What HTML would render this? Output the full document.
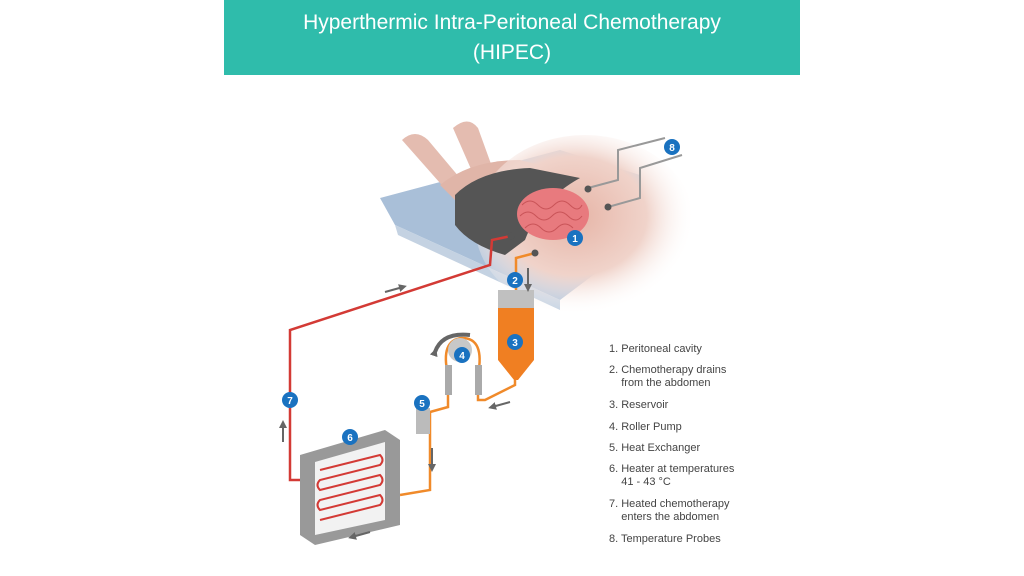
<!DOCTYPE html>
<html><head><meta charset="utf-8"><style>
body{margin:0;width:1024px;height:576px;background:#fff;overflow:hidden;position:relative;font-family:"Liberation Sans",sans-serif}
.t{position:absolute;left:224px;top:0;width:576px;height:75px;background:#2fbcab;color:#fff;text-align:center;font-size:21px;line-height:30px;padding-top:8px;box-sizing:border-box}
.l{position:absolute;left:609px;font-size:11px;color:#444;line-height:13px}
</style></head><body>
<div class="t">Hyperthermic Intra-Peritoneal Chemotherapy<br>(HIPEC)</div>
<svg width="1024" height="576" style="position:absolute;left:0;top:0">
<defs>
<radialGradient id="sk" cx="0.45" cy="0.45" r="0.55"><stop offset="0" stop-color="#e6b4a6"/><stop offset="0.6" stop-color="#f0d3ca"/><stop offset="1" stop-color="#fff" stop-opacity="0"/></radialGradient>
<marker id="ah" markerUnits="userSpaceOnUse" markerWidth="8" markerHeight="8" refX="4" refY="4" orient="auto"><path d="M0,0 L8,4 L0,8 Z" fill="#666"/></marker>
</defs>
<polygon points="380,198 560,150 640,175 640,240 560,300 395,225" fill="#a9bfd8"/>
<polygon points="395,225 560,300 560,310 398,235" fill="#c4d2e2"/>
<path d="M402,140 Q415,128 428,140 L470,190 L455,200 Z" fill="#e4bcb0"/>
<path d="M453,128 Q468,115 478,128 L495,175 L478,185 Z" fill="#e4bcb0"/>
<path d="M440,185 Q470,160 520,160 L560,170 L555,200 L470,215 Z" fill="#e0b5a8"/>
<ellipse cx="585" cy="225" rx="110" ry="90" fill="url(#sk)"/>
<path d="M455,195 Q480,170 530,168 L580,178 Q540,200 525,240 L505,255 Q470,245 455,225 Z" fill="#555"/>
<ellipse cx="553" cy="214" rx="36" ry="26" fill="#e87a7e"/>
<g stroke="#c95458" stroke-width="1" fill="none">
<path d="M522,205 q8,-8 16,0 t16,0 t16,0 t12,0"/><path d="M520,216 q8,-8 16,0 t16,0 t16,0 t14,0"/><path d="M525,228 q8,-8 16,0 t16,0 t16,0"/>
</g>
<polyline points="588,188 618,180 618,150 665,138" fill="none" stroke="#999" stroke-width="2"/>
<polyline points="608,207 640,198 640,168 682,155" fill="none" stroke="#999" stroke-width="2"/>
<circle cx="588" cy="189" r="3.5" fill="#555"/><circle cx="608" cy="207" r="3.5" fill="#555"/>
<polyline points="511,236 492,240 490,265 290,330 290,480 305,480" fill="none" stroke="#d33a35" stroke-width="2.5"/>
<circle cx="511" cy="236" r="3.5" fill="#555"/>
<polyline points="535,253 516,258 516,290" fill="none" stroke="#f08a2a" stroke-width="2.5"/>
<circle cx="535" cy="253" r="3.5" fill="#555"/>
<polyline points="515,380 515,385 485,400 478,400 478,375" fill="none" stroke="#f08a2a" stroke-width="2.5"/>
<polyline points="448,375 448,407 430,412 430,490 400,495" fill="none" stroke="#f08a2a" stroke-width="2.5"/>
<path d="M448,375 Q440,340 462,338 Q485,338 478,375" fill="none" stroke="#f08a2a" stroke-width="2.5"/>
<rect x="498" y="290" width="36" height="18" fill="#c0c0c0"/>
<path d="M498,308 L534,308 L534,360 L518,380 L514,380 L498,360 Z" fill="#f07f22"/>
<circle cx="460" cy="350" r="12" fill="#c8c8c8"/>
<path d="M435,352 Q442,332 470,335" fill="none" stroke="#666" stroke-width="4" marker-start="url(#ah)"/>
<rect x="445" y="365" width="7" height="30" fill="#aaa"/><rect x="475" y="365" width="7" height="30" fill="#aaa"/>
<rect x="416" y="408" width="14" height="26" fill="#bbb"/>
<polygon points="300,455 385,430 400,440 400,525 315,545 300,535" fill="#999"/>
<polygon points="315,462 385,442 385,520 315,535" fill="#f2f2f2"/>
<g stroke="#d33a35" stroke-width="2" fill="none"><path d="M320,470 L380,455 Q385,460 380,465 L320,480 Q315,485 320,490 L380,475 Q385,480 380,485 L320,500 Q315,505 320,510 L380,495 Q385,500 380,505 L320,520"/></g>
<g stroke="#666" stroke-width="2" marker-end="url(#ah)">
<line x1="385" y1="292" x2="403" y2="287"/><line x1="283" y1="442" x2="283" y2="424"/><line x1="528" y1="268" x2="528" y2="288"/>
<line x1="432" y1="448" x2="432" y2="468"/><line x1="510" y1="402" x2="492" y2="407"/><line x1="370" y1="532" x2="352" y2="537"/>
</g>
<g fill="#1a72c0">
<circle cx="575" cy="238" r="8"/><circle cx="515" cy="280" r="8"/><circle cx="515" cy="342" r="8"/><circle cx="462" cy="355" r="8"/>
<circle cx="422" cy="403" r="8"/><circle cx="350" cy="437" r="8"/><circle cx="290" cy="400" r="8"/><circle cx="672" cy="147" r="8"/>
</g>
<g fill="#fff" font-size="10" font-weight="bold" text-anchor="middle" font-family="Liberation Sans">
<text x="575" y="242">1</text><text x="515" y="284">2</text><text x="515" y="346">3</text><text x="462" y="359">4</text>
<text x="422" y="407">5</text><text x="350" y="441">6</text><text x="290" y="404">7</text><text x="672" y="151">8</text>
</g>
</svg>
<div class="l" style="top:343px">1. Peritoneal cavity</div>
<div class="l" style="top:364px">2. Chemotherapy drains<br>&nbsp;&nbsp;&nbsp;&nbsp;from the abdomen</div>
<div class="l" style="top:399px">3. Reservoir</div>
<div class="l" style="top:421px">4. Roller Pump</div>
<div class="l" style="top:442px">5. Heat Exchanger</div>
<div class="l" style="top:463px">6. Heater at temperatures<br>&nbsp;&nbsp;&nbsp;&nbsp;41 - 43 °C</div>
<div class="l" style="top:498px">7. Heated chemotherapy<br>&nbsp;&nbsp;&nbsp;&nbsp;enters the abdomen</div>
<div class="l" style="top:533px">8. Temperature Probes</div>
</body></html>
